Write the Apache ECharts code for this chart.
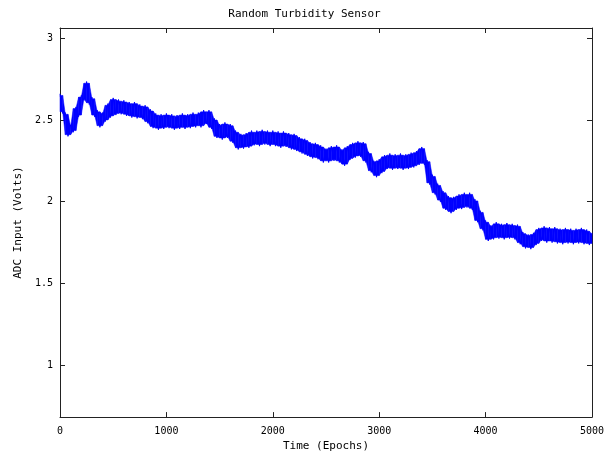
<!DOCTYPE html>
<html>
<head>
<meta charset="utf-8">
<script src="https://cdn.jsdelivr.net/npm/echarts@6/dist/echarts.min.js"></script>
<style>html,body{margin:0;padding:0;background:#fff}#c{width:609px;height:457px}</style>
</head>
<body>
<div id="c"></div>
<script>
const titleText = "Random Turbidity Sensor";
const xName = "Time (Epochs)";
const yName = "ADC Input (Volts)";
const epochStart = 0;
const epochStep = 25;
const xTicks = [0, 1000, 2000, 3000, 4000, 5000];
const yTicks = [1, 1.5, 2, 2.5, 3];
// ADC readings (V), read as alternating upper/lower excursions of the noisy trace every 25 epochs
const volts = [
2.66,2.54,2.545,2.40,2.47,2.425,2.58,2.52,2.65,2.62,
2.735,2.595,2.64,2.52,2.56,2.455,2.545,2.49,2.60,2.515,
2.635,2.53,2.625,2.535,2.62,2.525,2.61,2.515,2.61,2.51,
2.595,2.505,2.59,2.48,2.565,2.45,2.54,2.44,2.535,2.445,
2.54,2.45,2.535,2.44,2.53,2.445,2.54,2.445,2.535,2.45,
2.545,2.455,2.545,2.455,2.56,2.475,2.56,2.445,2.51,2.39,
2.475,2.38,2.485,2.39,2.475,2.36,2.435,2.32,2.415,2.325,
2.42,2.33,2.435,2.345,2.435,2.34,2.44,2.35,2.435,2.34,
2.435,2.34,2.43,2.33,2.43,2.335,2.42,2.32,2.415,2.31,
2.395,2.295,2.385,2.28,2.365,2.265,2.36,2.26,2.345,2.24,
2.325,2.24,2.34,2.25,2.345,2.24,2.32,2.22,2.34,2.255,
2.36,2.27,2.37,2.275,2.365,2.24,2.305,2.18,2.25,2.15,
2.26,2.175,2.285,2.20,2.295,2.195,2.29,2.20,2.295,2.195,
2.29,2.20,2.30,2.21,2.31,2.225,2.335,2.225,2.255,2.105,
2.165,2.045,2.11,2.0,2.065,1.95,2.035,1.93,2.03,1.95,
2.045,1.955,2.055,1.965,2.055,1.95,2.015,1.875,1.945,1.825,
1.885,1.76,1.855,1.77,1.875,1.775,1.865,1.77,1.87,1.775,
1.865,1.77,1.86,1.74,1.815,1.715,1.80,1.71,1.81,1.735,
1.84,1.76,1.85,1.75,1.845,1.75,1.845,1.745,1.835,1.74,
1.84,1.745,1.835,1.74,1.835,1.745,1.84,1.74,1.83,1.735,
1.81
];

const epochs = volts.map((v, i) => epochStart + i * epochStep);
const points = volts.map((v, i) => [epochs[i], v]);
// dense core of the noise band: between neighbouring read excursions, slightly inset
const inset = 0.01;
const nb = i => [volts[Math.max(0, i - 1)], volts[i], volts[Math.min(volts.length - 1, i + 1)]];
const coreLo = volts.map((v, i) => Math.min(...nb(i)) + inset);
const coreHi = volts.map((v, i) => Math.max(...nb(i)) - inset);
const bandSegs = epochs.slice(0, -1).map((e, i) =>
  [e, coreLo[i], coreHi[i], epochs[i + 1], coreLo[i + 1], coreHi[i + 1]]);

const font = "DejaVu Sans Mono";
const axisColor = "#222";
const blue = '#0000ff';

const chart = echarts.init(document.getElementById('c'), null, {renderer: 'canvas'});
chart.setOption({
  animation: false,
  backgroundColor: '#fff',
  title: {
    text: titleText, left: 'center', top: 4,
    textStyle: {fontFamily: font, fontSize: 11, fontWeight: 'normal', color: '#000'}
  },
  grid: {left: 60, right: 17, top: 28, bottom: 37, show: false},
  xAxis: [{
    type: 'value', min: 0, max: 5000, interval: 1000,
    name: xName, nameLocation: 'middle', nameGap: 23,
    nameTextStyle: {fontFamily: font, fontSize: 11, color: '#000'},
    axisLine: {show: true, onZero: false, lineStyle: {color: axisColor, width: 1}},
    axisTick: {show: true, inside: true, length: 5, lineStyle: {color: axisColor}},
    axisLabel: {fontFamily: font, fontSize: 10, color: '#000', margin: 9, formatter: v => String(v)},
    splitLine: {show: false}
  }, {
    type: 'value', min: 0, max: 5000, interval: 1000, position: 'top',
    axisLine: {show: true, onZero: false, lineStyle: {color: axisColor, width: 1}},
    axisTick: {show: true, inside: true, length: 5, lineStyle: {color: axisColor}},
    axisLabel: {show: false}, splitLine: {show: false}
  }],
  yAxis: [{
    type: 'value', min: 0.683, max: 3.0625,
    name: yName, nameLocation: 'middle', nameGap: 36, nameRotate: 90,
    nameTextStyle: {fontFamily: font, fontSize: 11, color: '#000'},
    axisLine: {show: true, onZero: false, lineStyle: {color: axisColor, width: 1}},
    axisTick: {show: true, inside: true, length: 5, lineStyle: {color: axisColor}, customValues: yTicks},
    axisLabel: {fontFamily: font, fontSize: 10, color: '#000', margin: 7, customValues: yTicks,
      formatter: v => String(v)},
    splitLine: {show: false}
  }, {
    type: 'value', min: 0.683, max: 3.0625, position: 'right',
    axisLine: {show: true, onZero: false, lineStyle: {color: axisColor, width: 1}},
    axisTick: {show: true, inside: true, length: 5, lineStyle: {color: axisColor}, customValues: yTicks},
    axisLabel: {show: false, customValues: yTicks}, splitLine: {show: false}
  }],
  series: [{
    type: 'custom', data: bandSegs, silent: true,
    encode: {x: [0, 3], y: [1, 2, 4, 5]},
    renderItem: (params, api) => {
      const p1 = api.coord([api.value(0), api.value(1)]);
      const p2 = api.coord([api.value(3), api.value(4)]);
      const p3 = api.coord([api.value(3), api.value(5)]);
      const p4 = api.coord([api.value(0), api.value(2)]);
      return {type: 'polygon', shape: {points: [p1, p2, p3, p4]},
        style: {fill: blue, stroke: blue, lineWidth: 0.5}};
    }
  }, {
    type: 'line', data: points,
    showSymbol: false, symbol: 'none', sampling: null,
    lineStyle: {color: blue, width: 1}
  }]
});
</script>
</body>
</html>
